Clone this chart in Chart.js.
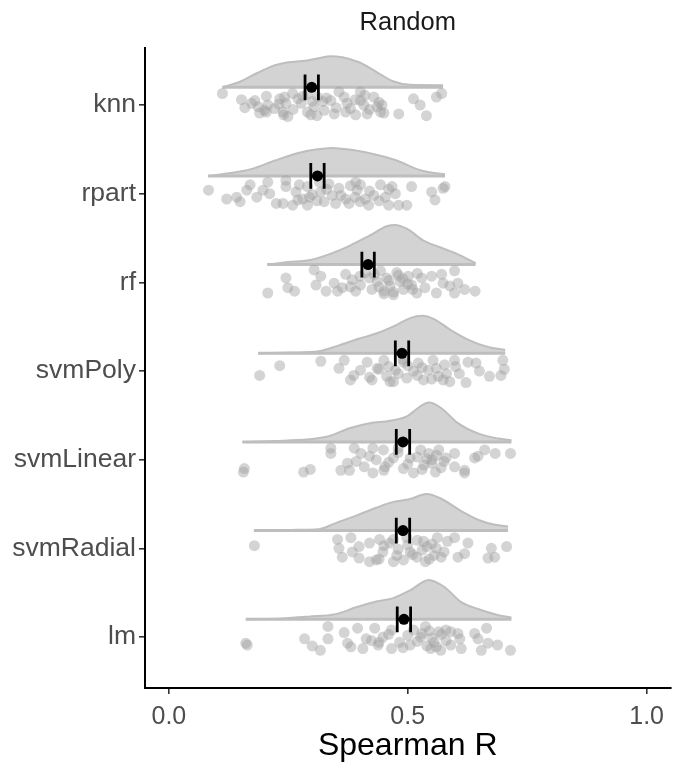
<!DOCTYPE html>
<html><head><meta charset="utf-8">
<script src="https://cdn.jsdelivr.net/npm/chart.js@4"></script>
<style>html,body{margin:0;padding:0;background:#fff}</style>
</head><body>
<canvas id="c" width="676" height="765"></canvas>
<script>
// ---- data ----
const models = ['knn','rpart','rf','svmPoly','svmLinear','svmRadial','lm'];
const xTicks = [0, 0.5, 1.0];
const means = [0.299, 0.311, 0.417, 0.488, 0.490, 0.490, 0.492];
const errHalf = [0.014, 0.014, 0.013, 0.014, 0.014, 0.014, 0.014];

// half-violin outlines: [Spearman R, density height]
const knnDensity = [[0.112,0],[0.151,0.068],[0.186,0.164],[0.222,0.248],[0.250,0.282],[0.285,0.299],[0.313,0.327],[0.338,0.350],[0.363,0.339],[0.398,0.282],[0.434,0.175],[0.469,0.068],[0.505,0.028],[0.574,0.023]];
const rpartDensity = [[0.082,0],[0.122,0.027],[0.172,0.077],[0.222,0.174],[0.271,0.258],[0.307,0.297],[0.342,0.316],[0.378,0.297],[0.434,0.239],[0.477,0.174],[0.519,0.077],[0.548,0.038],[0.578,0.019]];
const rfDensity = [[0.206,0],[0.250,0.030],[0.293,0.050],[0.335,0.116],[0.378,0.212],[0.420,0.327],[0.456,0.432],[0.473,0.448],[0.498,0.405],[0.533,0.270],[0.569,0.193],[0.605,0.116],[0.642,0.017]];
const svmPolyDensity = [[0.187,0],[0.257,0.008],[0.314,0.023],[0.356,0.089],[0.399,0.166],[0.434,0.223],[0.477,0.321],[0.505,0.397],[0.530,0.424],[0.555,0.386],[0.590,0.262],[0.626,0.155],[0.668,0.070],[0.704,0.038]];
const svmLinearDensity = [[0.154,0],[0.222,0.011],[0.293,0.030],[0.335,0.065],[0.378,0.155],[0.420,0.212],[0.463,0.239],[0.498,0.289],[0.527,0.405],[0.544,0.444],[0.569,0.386],[0.605,0.212],[0.647,0.096],[0.690,0.038],[0.717,0.019]];
const svmRadialDensity = [[0.178,0],[0.257,0.008],[0.314,0.016],[0.349,0.085],[0.392,0.169],[0.434,0.258],[0.470,0.324],[0.505,0.356],[0.539,0.413],[0.569,0.362],[0.612,0.220],[0.647,0.123],[0.683,0.065],[0.710,0.046]];
const lmDensity = [[0.161,0],[0.236,0.008],[0.293,0.030],[0.349,0.058],[0.392,0.135],[0.434,0.201],[0.470,0.239],[0.505,0.327],[0.544,0.444],[0.576,0.367],[0.612,0.193],[0.647,0.116],[0.690,0.046],[0.717,0.019]];

// jittered observations: [Spearman R, vertical jitter]
const knnPoints = [[0.112,0.13],[0.152,0.06],[0.159,-0.03],[0.173,0.02],[0.187,-0.02],[0.204,0.10],[0.207,0.00],[0.204,-0.08],[0.221,-0.04],[0.232,0.07],[0.242,0.09],[0.245,0.02],[0.249,-0.13],[0.239,-0.08],[0.259,0.13],[0.270,0.07],[0.277,0.02],[0.290,-0.08],[0.297,-0.11],[0.304,-0.02],[0.311,0.09],[0.322,0.04],[0.325,-0.06],[0.339,0.05],[0.346,-0.10],[0.356,0.15],[0.367,0.09],[0.373,0.02],[0.380,-0.04],[0.391,-0.11],[0.401,0.15],[0.401,0.05],[0.408,0.00],[0.415,-0.10],[0.429,0.09],[0.436,-0.02],[0.443,-0.08],[0.446,0.00],[0.481,-0.10],[0.512,0.07],[0.526,0.00],[0.539,-0.12],[0.560,0.09],[0.571,0.13],[0.20,-0.06],[0.23,0.01],[0.26,-0.05],[0.28,0.10],[0.30,0.04],[0.31,-0.12],[0.33,0.08],[0.35,-0.03],[0.37,-0.08],[0.39,0.06],[0.41,0.11],[0.42,-0.05],[0.44,0.03],[0.45,-0.09],[0.29,0.12],[0.24,-0.11],[0.18,0.05],[0.19,-0.09]];
const rpartPoints = [[0.083,0.04],[0.121,-0.06],[0.142,-0.04],[0.149,-0.09],[0.163,0.04],[0.170,0.10],[0.184,-0.04],[0.197,0.04],[0.207,0.13],[0.211,0.00],[0.225,-0.11],[0.239,-0.11],[0.245,0.15],[0.245,0.08],[0.259,-0.13],[0.266,0.02],[0.273,0.10],[0.280,-0.06],[0.290,-0.13],[0.294,-0.04],[0.315,0.13],[0.318,0.02],[0.325,-0.09],[0.335,0.11],[0.342,-0.02],[0.349,-0.11],[0.356,0.06],[0.370,-0.06],[0.377,-0.11],[0.391,0.13],[0.394,0.04],[0.401,0.10],[0.411,-0.06],[0.418,-0.13],[0.429,-0.02],[0.443,0.10],[0.453,-0.04],[0.460,-0.13],[0.467,0.08],[0.474,0.00],[0.481,-0.13],[0.498,-0.13],[0.508,0.08],[0.550,0.02],[0.557,-0.07],[0.574,0.06],[0.578,0.08],[0.29,0.08],[0.31,-0.08],[0.33,0.05],[0.36,-0.02],[0.38,0.09],[0.40,-0.09],[0.42,0.03],[0.30,-0.01],[0.27,-0.07],[0.44,-0.08],[0.46,0.05],[0.39,-0.04]];
const rfPoints = [[0.207,-0.12],[0.245,0.05],[0.249,-0.06],[0.263,-0.10],[0.304,0.14],[0.308,-0.03],[0.318,0.07],[0.329,-0.10],[0.346,-0.01],[0.353,-0.10],[0.363,-0.06],[0.370,0.09],[0.384,0.03],[0.391,-0.10],[0.401,-0.03],[0.411,0.11],[0.425,-0.08],[0.436,0.01],[0.443,0.13],[0.450,-0.10],[0.456,0.05],[0.463,-0.04],[0.470,-0.14],[0.477,0.11],[0.484,0.01],[0.491,-0.08],[0.501,0.07],[0.508,-0.03],[0.519,-0.12],[0.529,0.05],[0.536,-0.06],[0.550,0.07],[0.560,-0.12],[0.571,0.09],[0.574,-0.01],[0.598,0.13],[0.605,-0.01],[0.598,-0.12],[0.619,-0.08],[0.641,-0.10],[0.588,-0.04],[0.42,0.05],[0.44,-0.05],[0.46,0.02],[0.47,-0.11],[0.48,0.08],[0.50,-0.02],[0.52,0.10],[0.45,-0.13],[0.43,0.09],[0.49,0.04],[0.51,-0.08],[0.40,0.07],[0.38,-0.05]];
const svmPolyPoints = [[0.190,-0.05],[0.232,0.06],[0.318,0.11],[0.356,0.03],[0.367,0.12],[0.380,-0.10],[0.387,-0.05],[0.401,0.01],[0.415,0.10],[0.425,-0.10],[0.436,0.03],[0.450,0.12],[0.456,-0.06],[0.463,-0.12],[0.474,0.01],[0.491,0.10],[0.498,-0.08],[0.512,0.00],[0.522,0.09],[0.533,-0.10],[0.543,0.01],[0.553,0.12],[0.564,-0.06],[0.577,0.07],[0.588,-0.12],[0.598,0.12],[0.608,-0.03],[0.622,-0.13],[0.626,0.10],[0.643,0.09],[0.650,0.00],[0.671,-0.06],[0.695,-0.05],[0.699,0.12],[0.702,0.02],[0.581,-0.03],[0.574,-0.10],[0.46,0.05],[0.48,-0.03],[0.50,0.06],[0.52,-0.05],[0.53,0.04],[0.55,-0.09],[0.47,-0.12],[0.44,0.02],[0.42,-0.07],[0.56,0.03],[0.60,0.05],[0.49,0.13]];
const svmLinearPoints = [[0.156,-0.14],[0.158,-0.10],[0.282,-0.14],[0.296,-0.11],[0.339,0.13],[0.339,0.07],[0.378,-0.12],[0.388,0.13],[0.392,-0.02],[0.402,0.07],[0.409,-0.08],[0.427,0.13],[0.427,-0.15],[0.434,0.00],[0.452,-0.08],[0.470,0.02],[0.480,0.13],[0.491,-0.10],[0.505,0.02],[0.512,-0.15],[0.527,0.11],[0.534,-0.06],[0.544,0.07],[0.551,0.00],[0.558,-0.14],[0.565,0.11],[0.576,-0.02],[0.598,0.07],[0.598,-0.08],[0.619,-0.15],[0.640,0.02],[0.647,0.04],[0.661,0.11],[0.683,0.07],[0.715,0.07],[0.360,-0.12],[0.374,-0.04],[0.449,0.11],[0.619,-0.12],[0.50,-0.05],[0.52,0.03],[0.53,-0.11],[0.54,0.01],[0.55,-0.04],[0.56,0.05],[0.57,-0.09],[0.46,-0.03],[0.42,0.04],[0.48,0.08],[0.45,-0.12],[0.58,0.02]];
const svmRadialPoints = [[0.179,0.03],[0.353,0.10],[0.356,0.00],[0.363,-0.10],[0.381,0.12],[0.384,-0.04],[0.398,-0.11],[0.420,0.06],[0.434,-0.13],[0.441,0.10],[0.448,-0.04],[0.462,0.06],[0.470,-0.15],[0.477,-0.08],[0.498,0.12],[0.505,-0.04],[0.519,-0.10],[0.533,0.08],[0.540,0.02],[0.537,-0.15],[0.555,-0.08],[0.562,0.12],[0.576,-0.04],[0.583,0.08],[0.598,0.12],[0.605,-0.10],[0.619,-0.06],[0.626,0.06],[0.668,-0.11],[0.675,0.00],[0.682,-0.10],[0.707,0.02],[0.420,-0.15],[0.398,0.02],[0.491,-0.13],[0.50,0.04],[0.51,-0.07],[0.52,0.09],[0.53,-0.02],[0.545,-0.12],[0.55,0.05],[0.57,-0.10],[0.45,0.03],[0.47,0.10],[0.48,-0.01],[0.44,-0.12],[0.56,0.00]];
const lmPoints = [[0.161,-0.07],[0.164,-0.09],[0.284,-0.02],[0.300,-0.10],[0.317,-0.15],[0.333,0.12],[0.333,-0.02],[0.367,0.05],[0.374,-0.07],[0.381,-0.11],[0.395,0.10],[0.406,-0.13],[0.413,-0.02],[0.431,0.10],[0.438,-0.09],[0.448,0.00],[0.466,0.08],[0.466,-0.13],[0.483,-0.06],[0.505,-0.09],[0.512,0.08],[0.527,0.00],[0.537,0.12],[0.548,-0.13],[0.555,-0.06],[0.565,0.06],[0.569,-0.15],[0.580,0.08],[0.590,-0.09],[0.605,0.04],[0.609,-0.02],[0.612,-0.13],[0.640,0.04],[0.647,-0.02],[0.654,-0.15],[0.665,0.10],[0.668,-0.07],[0.688,-0.09],[0.715,-0.15],[0.424,-0.04],[0.50,0.02],[0.52,-0.05],[0.53,0.04],[0.54,-0.10],[0.545,0.07],[0.55,-0.01],[0.56,-0.11],[0.57,0.03],[0.49,-0.12],[0.46,0.03],[0.44,-0.06],[0.58,-0.04],[0.59,0.06]];

const densities = [knnDensity, rpartDensity, rfDensity, svmPolyDensity, svmLinearDensity, svmRadialDensity, lmDensity];
const observations = [knnPoints, rpartPoints, rfPoints, svmPolyPoints, svmLinearPoints, svmRadialPoints, lmPoints];

// ---- styling / layout constants ----
const NUDGE = 0.2;      // violin & mean nudged above category
const CAP = 0.145;      // half height of error bar caps
const FONT = '"Liberation Sans", Arial, sans-serif';
const VIOLIN_FILL = '#d3d3d3';
const VIOLIN_LINE = '#bebebe';
const POINT_COL = 'rgba(160,160,160,0.45)';

const pos = i => models.length - i;
const datasets = [];
models.forEach((m, i) => {
  const base = pos(i) + NUDGE;
  const d = densities[i];
  datasets.push({
    label: m + ' density',
    data: d.map(([x, h]) => ({x, y: base + h})),
    showLine: true, fill: {value: base},
    backgroundColor: VIOLIN_FILL, borderColor: VIOLIN_LINE, borderWidth: 2,
    pointRadius: 0, cubicInterpolationMode: 'monotone', order: 4
  });
  datasets.push({
    label: m + ' base',
    data: [{x: d[0][0], y: base}, {x: d[d.length - 1][0], y: base}],
    showLine: true, fill: false, borderColor: VIOLIN_LINE, borderWidth: 3,
    pointRadius: 0, order: 3
  });
  datasets.push({
    label: m + ' obs',
    data: observations[i].map(([x, j]) => ({x, y: pos(i) + j})),
    showLine: false, pointRadius: 5.5, pointBackgroundColor: POINT_COL,
    pointBorderWidth: 0, pointBorderColor: 'rgba(0,0,0,0)', order: 2
  });
  const lo = means[i] - errHalf[i], hi = means[i] + errHalf[i];
  datasets.push({
    label: m + ' err',
    data: [{x: lo, y: base - CAP}, {x: lo, y: base + CAP}, {x: means[i], y: null},
           {x: lo, y: base}, {x: hi, y: base}, {x: means[i], y: null},
           {x: hi, y: base - CAP}, {x: hi, y: base + CAP}],
    showLine: true, spanGaps: false, fill: false, borderColor: '#000', borderWidth: 2.8,
    pointRadius: 0, order: 1
  });
  datasets.push({
    label: m + ' mean',
    data: [{x: means[i], y: base}],
    showLine: false, pointRadius: 5.5, pointBackgroundColor: '#000',
    pointBorderWidth: 0, order: 0
  });
});

new Chart(document.getElementById('c'), {
  type: 'line',
  data: {datasets},
  options: {
    responsive: false, animation: false, devicePixelRatio: 1,
    layout: {padding: {left: 0, right: 0, top: 0, bottom: 0}},
    plugins: {
      legend: {display: false}, tooltip: {enabled: false},
      title: {display: true, text: 'Random', fullSize: false, color: '#1a1a1a',
              font: {family: FONT, size: 25.5, weight: 'normal'}, padding: {top: 8, bottom: 9.4}}
    },
    scales: {
      x: {
        type: 'linear', min: -0.05, max: 1.05,
        afterBuildTicks: s => { s.ticks = xTicks.map(v => ({value: v})); },
        afterFit: s => { s.height = 77; },
        ticks: {callback: v => v.toFixed(1), color: '#4d4d4d', padding: 8,
                font: {family: FONT, size: 25}, maxRotation: 0, autoSkip: false},
        grid: {display: true, drawOnChartArea: false, drawTicks: true, tickLength: 6, color: '#333', lineWidth: 1.6},
        border: {display: true, color: '#000', width: 2},
        title: {display: true, text: 'Spearman R', color: '#000', padding: {top: 0, bottom: 0},
                font: {family: FONT, size: 32}}
      },
      y: {
        type: 'linear', min: 0.425, max: 7.643,
        afterBuildTicks: s => { s.ticks = models.map((m, i) => ({value: pos(i)})); },
        afterFit: s => { s.width = 145; },
        ticks: {callback: v => models[models.length - v], color: '#4d4d4d', padding: 3,
                font: {family: FONT, size: 26.5}, autoSkip: false},
        grid: {display: true, drawOnChartArea: false, drawTicks: true, tickLength: 6, color: '#333', lineWidth: 1.6},
        border: {display: true, color: '#000', width: 2}
      }
    }
  }
});
</script>
</body></html>
